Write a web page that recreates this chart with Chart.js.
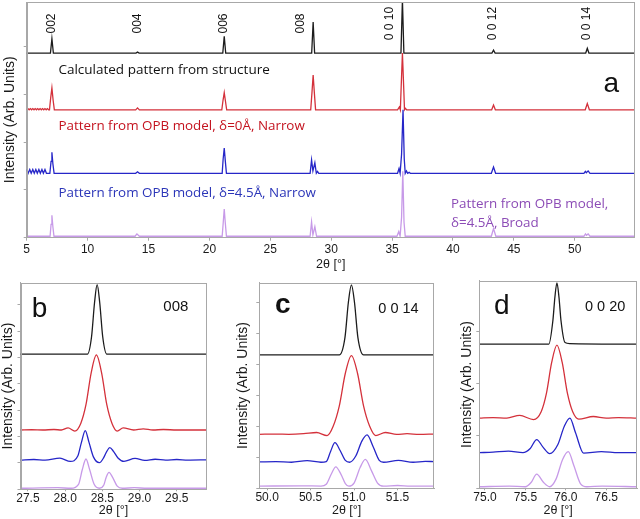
<!DOCTYPE html>
<html>
<head>
<meta charset="utf-8">
<script src="https://cdn.jsdelivr.net/npm/chart.js@4.4.1/dist/chart.umd.min.js"></script>
<style>
html,body{margin:0;padding:0;background:#ffffff;}
body{width:640px;height:519px;position:relative;overflow:hidden;}
.pane{position:absolute;}
canvas{display:block;}
</style>
</head>
<body>
<div class="pane" style="left:0px;top:0px;"><canvas id="chartA" width="640" height="275"></canvas></div>
<div class="pane" style="left:0px;top:275px;"><canvas id="chartB" width="215" height="244"></canvas></div>
<div class="pane" style="left:215px;top:275px;"><canvas id="chartC" width="225" height="244"></canvas></div>
<div class="pane" style="left:440px;top:275px;"><canvas id="chartD" width="200" height="244"></canvas></div>
<script>
// ---------------- DATA ----------------
// Series order: black (calculated), red (OPB d=0 narrow), blue (OPB d=4.5 narrow), purple (OPB d=4.5 broad)
// Panel a : full pattern 2theta 5..55 (values relative to each trace's baseline)
const aReflections = ['002', '004', '006', '008', '0 0 10', '0 0 12', '0 0 14'];
const aReflectionPos = [7.05, 14.15, 21.15, 27.48, 34.82, 43.28, 51.0];
const aTicks = [5, 10, 15, 20, 25, 30, 35, 40, 45, 50];
const aYTicks = [0, 1, 2, 3, 4];
const aOffset = [3.87, 2.68, 1.35, 0.03];

const aX_black = [5, 6.95, 7.07, 7.19, 13.97, 14.1, 14.23, 21.1, 21.22, 21.34, 28.4, 28.52, 28.64, 35.73, 35.85, 35.97, 43.2, 43.33, 43.46, 50.9, 51.03, 51.16, 54.93];
const aY_black = [0, 0, 0.3, 0, 0, 0.02, 0, 0, 0.35, 0, 0, 0.65, 0, 0, 1.12, 0, 0, 0.06, 0, 0, 0.1, 0, 0];

const aX_red = [5.0, 5.1, 5.2, 5.3, 5.4, 5.5, 5.6, 5.7, 5.8, 5.9, 6.0, 6.1, 6.2, 6.3, 6.4, 6.5, 6.6, 6.7, 6.8,
  6.87, 6.97, 7.07, 7.17, 7.27, 13.95, 14.1, 14.25, 21.02, 21.12, 21.22, 21.32, 21.42,
  28.32, 28.42, 28.52, 28.62, 28.72, 35.45, 35.6, 35.68, 35.75, 35.85, 35.95, 36.02, 36.1, 36.2,
  43.18, 43.33, 43.48, 50.86, 51.03, 51.2, 54.93];
const aY_red = [0, 0.025, 0, 0.025, 0, 0.025, 0, 0.025, 0, 0.025, 0, 0.025, 0, 0.025, 0, 0.025, 0, 0.025, 0,
  0, 0.25, 0.46, 0.2, 0, 0, 0.04, 0, 0, 0.2, 0.36, 0.18, 0,
  0, 0.35, 0.73, 0.35, 0, 0, 0.06, 0, 0.5, 1.19, 0.5, 0, 0.03, 0,
  0, 0.1, 0, 0, 0.13, 0, 0];

const aX_blue = [5.0, 5.12, 5.25, 5.37, 5.5, 5.62, 5.75, 5.87, 6.0, 6.12, 6.25, 6.37, 6.5, 6.62, 6.75,
  6.9, 7.0, 7.07, 7.15, 7.25, 13.95, 14.1, 14.25, 21.05, 21.13, 21.22, 21.31, 21.4,
  28.27, 28.39, 28.5, 28.66, 28.78, 28.88, 28.98,
  35.45, 35.57, 35.66, 35.78, 35.9, 36.0, 36.08, 36.18, 36.28, 36.4, 36.5,
  43.15, 43.33, 43.5, 50.75, 50.87, 50.95, 51.1, 51.25, 54.93];
const aY_blue = [0.08, 0, 0.08, 0, 0.08, 0, 0.08, 0, 0.08, 0, 0.08, 0, 0.08, 0, 0,
  0, 0.25, 0.44, 0.2, 0, 0, 0.03, 0, 0, 0.3, 0.53, 0.25, 0,
  0, 0.28, 0.05, 0.22, 0, 0.04, 0,
  0, 0.1, 0, 0.4, 1.33, 0.3, 0, 0.05, 0, 0.02, 0,
  0, 0.13, 0, 0, 0.04, 0.01, 0.05, 0, 0];

const aX_purple = [5, 6.92, 7.0, 7.07, 7.15, 7.24, 13.9, 14.05, 14.25, 21.05, 21.14, 21.22, 21.3, 21.4,
  28.27, 28.39, 28.5, 28.66, 28.8, 35.4, 35.55, 35.66, 35.78, 35.88, 35.98, 36.08,
  43.15, 43.33, 43.52, 50.75, 50.88, 50.96, 51.1, 51.25, 54.93];
const aY_purple = [0, 0, 0.25, 0.44, 0.2, 0, 0, 0.05, 0, 0, 0.3, 0.57, 0.3, 0,
  0, 0.3, 0.03, 0.2, 0, 0, 0.1, 0, 0.4, 1.36, 0.3, 0,
  0, 0.16, 0, 0, 0.05, 0.02, 0.05, 0, 0];

// Panel b : 008 reflection
const bTicks = [27.5, 28.0, 28.5, 29.0, 29.5];
const bYTicks = [0, 1, 2, 3, 4, 5, 6, 7];
const bOffset = [5.13, 2.25, 1.11, 0.04];
const bX_black = [27.4, 28.30, 28.355, 28.395, 28.43, 28.465, 28.505, 28.56, 29.9];
const bY_black = [0, 0, 0.66, 1.95, 2.64, 1.95, 0.66, 0, 0];
const bX_red = [27.4, 27.55, 27.7, 27.85, 27.95, 28.04, 28.13, 28.21, 28.28, 28.35, 28.42, 28.49, 28.56, 28.63, 28.7, 28.78, 28.92, 29.05, 29.18, 29.32, 29.5, 29.9];
const bY_red = [0, 0.01, 0, 0.02, 0, 0.08, -0.04, 0.25, 0.96, 2.17, 2.85, 2.17, 0.96, 0.25, -0.04, 0.08, 0, 0.04, 0, 0.02, 0, 0];
const bX_blue = [27.4, 27.58, 27.73, 27.93, 28.07, 28.17, 28.22, 28.27, 28.32, 28.38, 28.46, 28.52, 28.56, 28.6, 28.65, 28.71, 28.79, 28.94, 29.07, 29.21, 29.35, 29.5, 29.65, 29.9];
const bY_blue = [0, 0.02, 0, 0.07, -0.05, 0.15, 0.68, 1.12, 0.68, 0.12, -0.1, 0.1, 0.33, 0.47, 0.33, 0.08, -0.05, 0.06, -0.01, 0.03, 0, 0.02, 0, 0.01];
const bX_purple = [27.4, 27.9, 28.08, 28.18, 28.23, 28.28, 28.33, 28.39, 28.46, 28.52, 28.55, 28.59, 28.64, 28.7, 28.77, 28.93, 29.1, 29.9];
const bY_purple = [0, 0.02, 0, 0.15, 0.7, 1.11, 0.7, 0.15, 0, 0.12, 0.4, 0.6, 0.4, 0.08, 0, 0.02, 0, 0];

// Panel c : 0 0 14 reflection
const cTicks = [50.0, 50.5, 51.0, 51.5];
const cYTicks = [0, 1, 2, 3, 4, 5, 6];
const cOffset = [4.3, 1.74, 0.84, 0.07];
const cX_black = [49.91, 50.83, 50.895, 50.935, 50.97, 51.005, 51.045, 51.11, 51.92];
const cY_black = [0, 0, 0.55, 1.7, 2.26, 1.7, 0.55, 0, 0];
const cX_red = [49.91, 50.1, 50.25, 50.42, 50.57, 50.69, 50.76, 50.83, 50.9, 50.97, 51.04, 51.11, 51.18, 51.25, 51.36, 51.49, 51.61, 51.75, 51.92];
const cY_red = [0, 0.01, 0, 0.02, 0.06, -0.04, 0.26, 0.91, 1.97, 2.54, 1.97, 0.91, 0.26, -0.04, 0.06, 0, 0.02, 0, 0.01];
const cX_blue = [49.91, 50.1, 50.28, 50.46, 50.62, 50.68, 50.73, 50.78, 50.84, 50.9, 50.95, 51.02, 51.09, 51.15, 51.22, 51.29, 51.34, 51.51, 51.68, 51.82, 51.92];
const cY_blue = [0.01, 0.02, 0, 0.05, 0, 0.02, 0.35, 0.63, 0.38, 0.06, 0, 0.2, 0.68, 0.88, 0.5, 0.06, 0, 0.06, 0, 0.03, 0.02];
const cX_purple = [49.91, 50.4, 50.62, 50.68, 50.74, 50.79, 50.85, 50.9, 50.94, 51.0, 51.07, 51.13, 51.2, 51.27, 51.34, 51.5, 51.65, 51.92];
const cY_purple = [0, 0.01, 0, 0.06, 0.4, 0.62, 0.38, 0.08, 0, 0.1, 0.6, 0.86, 0.5, 0.1, 0, 0.02, 0, 0];

// Panel d : 0 0 20 reflection
const dTicks = [75.0, 75.5, 76.0, 76.5];
const dYTicks = [0, 1, 2, 3];
const dOffset = [2.75, 1.34, 0.68, 0.03];
const dX_black = [74.93, 75.79, 75.84, 75.865, 75.89, 75.915, 75.94, 75.99, 76.05, 76.88];
const dY_black = [0, 0, 0.45, 0.9, 1.17, 0.9, 0.45, 0.03, 0.01, 0];
const dX_red = [74.93, 75.1, 75.27, 75.43, 75.6, 75.695, 75.76, 75.825, 75.89, 75.955, 76.02, 76.085, 76.16, 76.34, 76.5, 76.65, 76.88];
const dY_red = [0, 0.01, 0, 0.05, -0.03, 0.12, 0.47, 1.06, 1.39, 1.06, 0.47, 0.12, -0.02, 0.03, 0, 0.01, 0];
const dX_blue = [74.93, 75.1, 75.29, 75.47, 75.56, 75.64, 75.72, 75.8, 75.9, 75.98, 76.05, 76.12, 76.22, 76.44, 76.65, 76.88];
const dY_blue = [0, 0.01, 0.03, 0, 0.08, 0.25, 0.1, -0.02, 0.15, 0.5, 0.66, 0.38, -0.01, 0.02, 0, 0];
const dX_purple = [74.93, 75.3, 75.5, 75.57, 75.64, 75.72, 75.8, 75.88, 75.96, 76.03, 76.1, 76.18, 76.26, 76.45, 76.88];
const dY_purple = [0, 0.01, 0, 0.08, 0.24, 0.09, 0, 0.15, 0.52, 0.67, 0.4, 0.06, 0, 0.01, 0];

// ---------------- STYLE ----------------
const LINE_COLORS = ['#1c1c1c', '#d4313b', '#2626c8', '#c79ae8'];
const TEXT_COLORS = ['#111111', '#c4131f', '#2b35b8', '#8c4cb6'];
const AXIS_FONT = '"Liberation Sans", Arial, sans-serif';
const NOTE_FONT = '"Open Sans", "Liberation Sans", sans-serif';
const FRAME = '#a8a8a8';

function pts(xs, ys, off) { return xs.map((x, i) => ({ x: x, y: ys[i] + off })); }

const framePlugin = {
  id: 'frame',
  afterDatasetsDraw(chart) {
    const a = chart.chartArea, ctx = chart.ctx;
    ctx.save();
    ctx.strokeStyle = FRAME; ctx.lineWidth = 1;
    ctx.strokeRect(Math.round(a.left) + 0.5, Math.round(a.top) + 0.5, Math.round(a.right - a.left) - 1, Math.round(a.bottom - a.top) - 1);
    ctx.restore();
  }
};
const notesPlugin = {
  id: 'notes',
  afterDraw(chart, args, opts) {
    const ctx = chart.ctx;
    (opts.items || []).forEach(it => {
      ctx.save();
      ctx.font = it.font;
      ctx.fillStyle = it.color || '#111';
      ctx.textAlign = it.align || 'left';
      ctx.textBaseline = it.base || 'alphabetic';
      const x = (it.dataX !== undefined) ? chart.scales.x.getPixelForValue(it.dataX) : it.x;
      ctx.translate(x, it.y);
      if (it.rot) ctx.rotate(it.rot);
      ctx.fillText(it.t, 0, 0);
      ctx.restore();
    });
  }
};

function makeChart(id, p) {
  const sets = p.series.map((s, i) => ({
    data: pts(s[0], s[1], p.offsets[i]),
    borderColor: LINE_COLORS[i],
    borderWidth: 1.3,
    pointRadius: 0,
    fill: false,
    tension: p.smooth ? 0.4 : 0,
    cubicInterpolationMode: p.smooth ? 'monotone' : 'default',
    order: 3 - i
  }));
  return new Chart(document.getElementById(id), {
    type: 'line',
    data: { datasets: sets },
    plugins: [framePlugin, notesPlugin],
    options: {
      responsive: false, animation: false, devicePixelRatio: 1, events: [],
      layout: { padding: p.pad },
      plugins: { legend: { display: false }, tooltip: { enabled: false }, notes: { items: p.notes } },
      scales: {
        x: {
          type: 'linear', min: p.xmin, max: p.xmax,
          afterBuildTicks: s => { s.ticks = p.xticks.map(v => ({ value: v })); },
          afterFit: s => { s.height = p.xh; },
          ticks: { autoSkip: false, maxRotation: 0, minRotation: 0, padding: p.tickPad, color: '#1a1a1a',
            font: { family: AXIS_FONT, size: 12 }, callback: v => p.fmt(v) },
          grid: { display: true, drawOnChartArea: false, drawTicks: true, tickLength: p.tl, color: FRAME },
          border: { display: true, color: FRAME },
          title: { display: true, text: '2θ [°]', color: '#1a1a1a', font: { family: AXIS_FONT, size: 12.5 }, padding: { top: 0, bottom: p.xtPad } }
        },
        y: {
          type: 'linear', min: 0, max: p.ymax,
          afterBuildTicks: s => { s.ticks = p.yticks.map(v => ({ value: v })); },
          afterFit: s => { s.width = p.yw; },
          ticks: { display: false },
          grid: { display: true, drawOnChartArea: false, drawTicks: true, tickLength: 3, color: FRAME },
          border: { display: true, color: FRAME },
          title: { display: true, text: 'Intensity (Arb. Units)', color: '#1a1a1a', font: { family: AXIS_FONT, size: 14 }, padding: { top: p.ytPad, bottom: 0 } }
        }
      }
    }
  });
}

// ---------------- PANEL a ----------------
const aNotes = aReflections.map((t, i) => ({ t: t, dataX: aReflectionPos[i], y: 23.5, rot: -Math.PI / 2, align: 'center', base: 'middle', font: '12px ' + AXIS_FONT, color: '#111' }));
aNotes.push(
  { t: 'Calculated pattern from structure', x: 58.4, y: 74, font: '13.5px ' + NOTE_FONT, color: TEXT_COLORS[0] },
  { t: 'Pattern from OPB model, δ=0Å, Narrow', x: 58.4, y: 130, font: '13.4px ' + NOTE_FONT, color: TEXT_COLORS[1] },
  { t: 'Pattern from OPB model, δ=4.5Å, Narrow', x: 58.4, y: 196.5, font: '13.4px ' + NOTE_FONT, color: TEXT_COLORS[2] },
  { t: 'Pattern from OPB model,', x: 451, y: 208, font: '13.4px ' + NOTE_FONT, color: TEXT_COLORS[3] },
  { t: 'δ=4.5Å, Broad', x: 451, y: 227, font: '13.4px ' + NOTE_FONT, color: TEXT_COLORS[3] },
  { t: 'a', x: 603.5, y: 91.7, font: '28px ' + AXIS_FONT, color: '#111' }
);
makeChart('chartA', {
  series: [[aX_black, aY_black], [aX_red, aY_red], [aX_blue, aY_blue], [aX_purple, aY_purple]],
  offsets: aOffset, smooth: false,
  xmin: 5, xmax: 54.93, xticks: aTicks, yticks: aYTicks, fmt: v => String(Math.round(v)),
  ymax: 4.94, pad: { left: 0, right: 5.2, top: 2, bottom: 0 },
  xh: 37.3, yw: 26.7, tl: 3, tickPad: 2, xtPad: 2.5, ytPad: 1.6,
  notes: aNotes
});

// ---------------- PANEL b ----------------
makeChart('chartB', {
  series: [[bX_black, bY_black], [bX_red, bY_red], [bX_blue, bY_blue], [bX_purple, bY_purple]],
  offsets: bOffset, smooth: true,
  xmin: 27.4, xmax: 29.9, xticks: bTicks, yticks: bYTicks, fmt: v => v.toFixed(1),
  ymax: 7.84, pad: { left: 0, right: 8.5, top: 7.7, bottom: 0 },
  xh: 29.7, yw: 20.5, tl: 2, tickPad: 0, xtPad: 0.5, ytPad: 0,
  notes: [
    { t: 'b', x: 31.7, y: 41.7, font: '28px ' + AXIS_FONT, color: '#111' },
    { t: '008', x: 163.3, y: 35.7, font: '15px ' + AXIS_FONT, color: '#111' }
  ]
});

// ---------------- PANEL c ----------------
makeChart('chartC', {
  series: [[cX_black, cY_black], [cX_red, cY_red], [cX_blue, cY_blue], [cX_purple, cY_purple]],
  offsets: cOffset, smooth: true,
  xmin: 49.91, xmax: 51.92, xticks: cTicks, yticks: cYTicks, fmt: v => v.toFixed(1),
  ymax: 6.63, pad: { left: 0, right: 6, top: 7.7, bottom: 0 },
  xh: 30.7, yw: 44.3, tl: 2, tickPad: 0, xtPad: 0.5, ytPad: 19.5,
  notes: [
    { t: 'c', x: 60, y: 38.3, font: 'bold 28px ' + AXIS_FONT, color: '#111' },
    { t: '0 0 14', x: 163.3, y: 37.7, font: '14.5px ' + AXIS_FONT, color: '#111' }
  ]
});

// ---------------- PANEL d ----------------
makeChart('chartD', {
  series: [[dX_black, dY_black], [dX_red, dY_red], [dX_blue, dY_blue], [dX_purple, dY_purple]],
  offsets: dOffset, smooth: true,
  xmin: 74.93, xmax: 76.88, xticks: dTicks, yticks: dYTicks, fmt: v => v.toFixed(1),
  ymax: 3.96, pad: { left: 0, right: 3, top: 5.7, bottom: 0 },
  xh: 30.7, yw: 39.3, tl: 2, tickPad: 0, xtPad: 0.5, ytPad: 18.9,
  notes: [
    { t: 'd', x: 54, y: 39.3, font: '28px ' + AXIS_FONT, color: '#111' },
    { t: '0 0 20', x: 145, y: 36, font: '14.5px ' + AXIS_FONT, color: '#111' }
  ]
});
</script>
</body>
</html>
